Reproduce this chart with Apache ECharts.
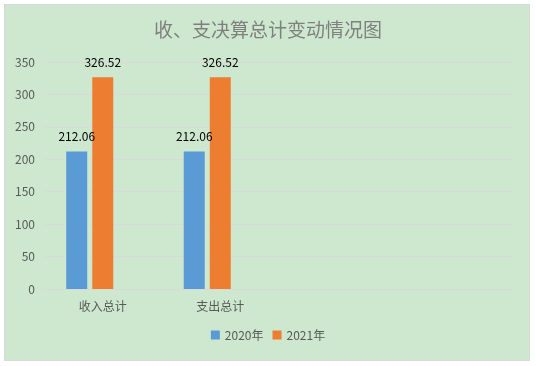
<!DOCTYPE html>
<html><head><meta charset="utf-8">
<script src="https://cdn.jsdelivr.net/npm/echarts@6/dist/echarts.min.js"></script>
<style>
html,body{margin:0;padding:0;background:#fff;}
#bg{position:absolute;left:4px;top:4px;width:524px;height:355px;background:#cde8cf;border:1px solid #d9d9d9;}
#c{position:absolute;left:0;top:0;width:536px;height:366px;}
</style></head>
<body><div id="bg"></div><div id="c"></div>
<script>
const title = '收、支决算总计变动情况图';
const categories = ['收入总计', '支出总计', '', ''];
const seriesNames = ['2020年', '2021年'];
const values2020 = [212.06, 212.06];
const values2021 = [326.52, 326.52];
const yTicks = {min: 0, max: 350, interval: 50};

const font = '"Noto Sans CJK SC", "Noto Sans", sans-serif';
const chart = echarts.init(document.getElementById('c'));
const lbl = {show: true, position: 'top', distance: 9, color: '#000', fontSize: 12, fontFamily: font};
chart.setOption({
  animation: false,
  backgroundColor: 'transparent',
  title: {text: title, left: 'center', top: 15, textStyle: {color: '#7f7f7f', fontSize: 19, fontWeight: 'normal', fontFamily: font}},
  legend: {data: seriesNames, bottom: 20, left: 'center', itemWidth: 9, itemHeight: 9, itemGap: 9,
    textStyle: {color: '#595959', fontSize: 12, fontFamily: font}, icon: 'rect'},
  grid: [
    {left: 44, right: 22, top: 62, bottom: 77},
    {left: 31, width: 470, top: 62, bottom: 77}
  ],
  xAxis: [
    {type: 'category', gridIndex: 0, data: categories,
      axisLine: {lineStyle: {color: '#d9d9d9'}}, axisTick: {show: false},
      axisLabel: {color: '#595959', fontSize: 12, fontFamily: font, margin: 11}},
    {type: 'category', gridIndex: 1, data: categories, show: false}
  ],
  yAxis: [
    {type: 'value', gridIndex: 0, min: yTicks.min, max: yTicks.max, interval: yTicks.interval,
      axisLine: {show: false}, axisTick: {show: false},
      axisLabel: {color: '#595959', fontSize: 12, fontFamily: font, margin: 9},
      splitLine: {lineStyle: {color: '#d9d9d9'}}},
    {type: 'value', gridIndex: 1, min: yTicks.min, max: yTicks.max, interval: yTicks.interval, show: false}
  ],
  series: [
    {name: seriesNames[0], type: 'bar', xAxisIndex: 1, yAxisIndex: 1, data: values2020, barWidth: 21, barGap: '24%',
      itemStyle: {color: '#5b9bd5'}, label: lbl},
    {name: seriesNames[1], type: 'bar', xAxisIndex: 1, yAxisIndex: 1, data: values2021, barWidth: 21, barGap: '24%',
      itemStyle: {color: '#ed7d31'}, label: lbl}
  ]
});
</script></body></html>
